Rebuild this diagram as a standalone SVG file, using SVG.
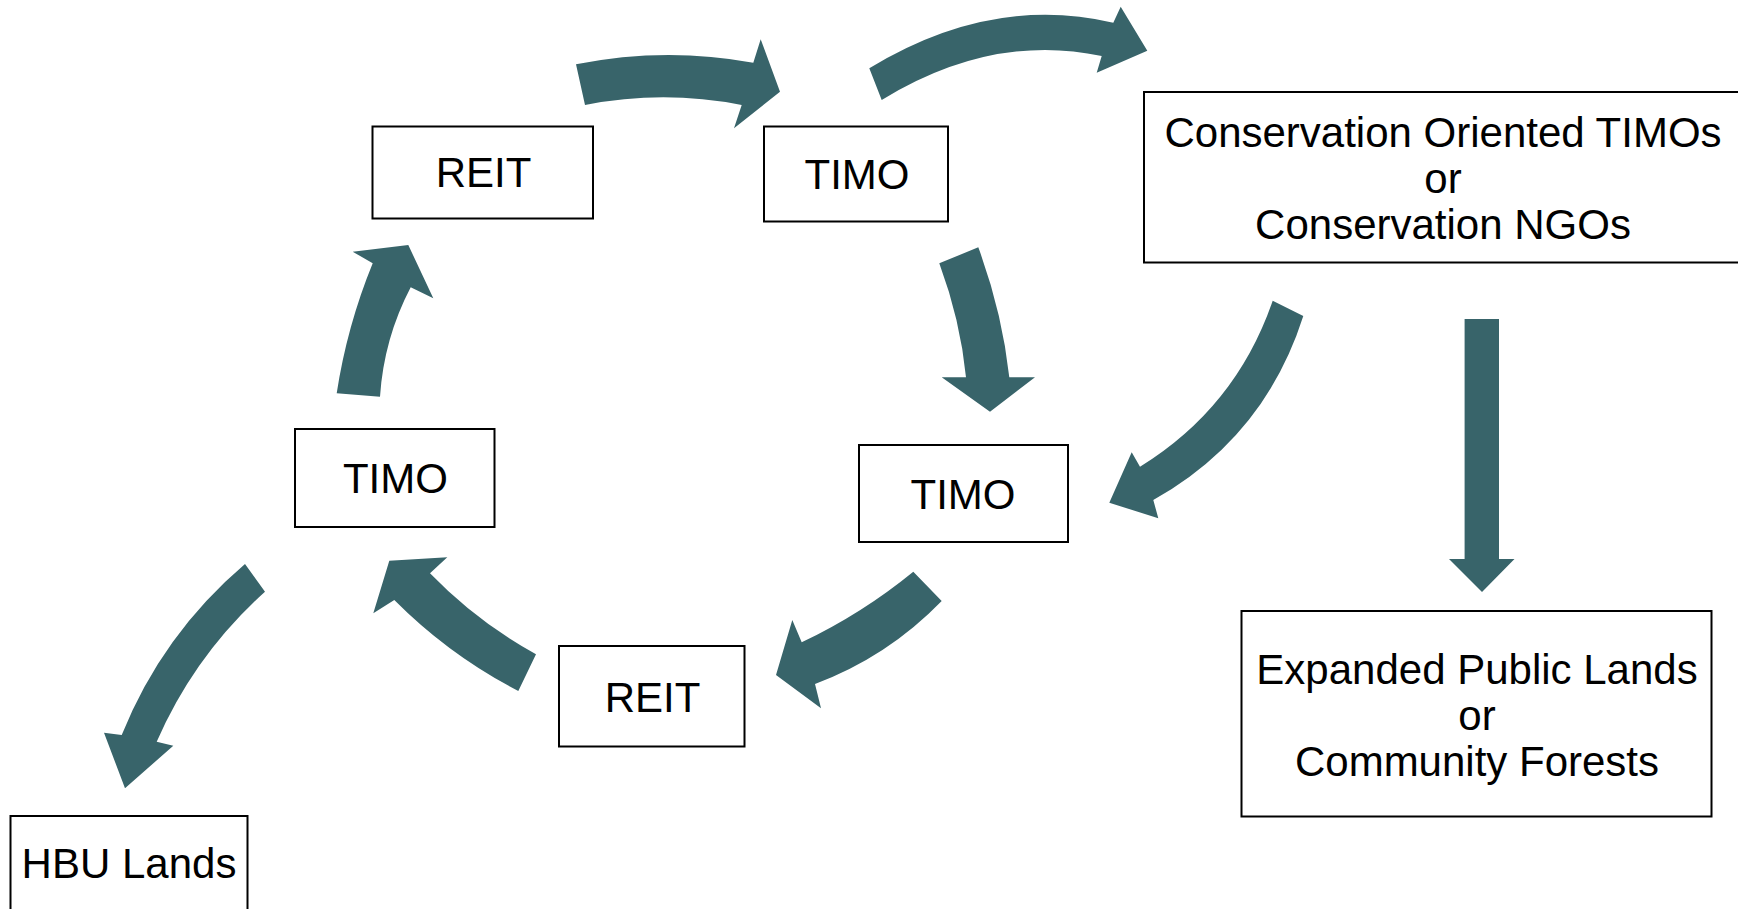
<svg xmlns="http://www.w3.org/2000/svg" width="1738" height="909" viewBox="0 0 1738 909">
<style>
.box{fill:#ffffff;stroke:#000000;stroke-width:2}
.lbl{font-family:"Liberation Sans",Arial,sans-serif;font-size:42px;fill:#000000;text-anchor:middle}
.arr{fill:#38646a;stroke:none}
</style>
<rect width="1738" height="909" fill="#ffffff"/>
<g id="connectors">
<path class="arr" d="M576,64.3 Q664.6,46.5 753.3,62.7 L760.7,39.3 L780,91.7 L734,128.3 L741.7,105 Q663.4,89.6 585,105 Z"/>
<path class="arr" d="M869.3,68.3 Q991.3,-5.9 1113.3,22.7 L1120.7,6.7 L1147.3,50.7 L1096.7,72.7 L1101.7,56 Q991.7,32.6 881.7,100 Z"/>
<path class="arr" d="M939.3,263.3 Q960.4,320.3 966,377.3 L941.7,377.3 L990,411.7 L1035,377.3 L1009.3,377.3 Q1002.2,312.3 978.3,247.3 Z"/>
<path class="arr" d="M1272.7,300.7 Q1236,407.5 1140,466.7 L1131.7,452.3 L1109.3,502.7 L1158.3,518.3 L1153.3,500 Q1264.5,437.6 1303.3,316 Z"/>
<path class="arr" d="M1464.6,319 L1499,319 L1499,559 L1514.5,559 L1482,592 L1449,559 L1464.6,559 Z"/>
<path class="arr" d="M913.3,571.7 Q861.8,613.8 801.7,642.3 L792.3,620 L776,675 L821,708.3 L815,684 Q887.7,656.7 941.7,601 Z"/>
<path class="arr" d="M536,654.3 Q476.9,621.8 430,573.3 L447.3,557.3 L389.3,560.7 L373.3,613.3 L394.3,600 Q449.2,655.2 518.3,691 Z"/>
<path class="arr" d="M336.7,393.3 Q347,326.2 372.7,263.3 L352.7,251.7 L408.3,245 L433.3,298.3 L410.7,287.3 Q383.8,338.8 380,396.7 Z"/>
<path class="arr" d="M245,564 Q162.3,634.3 121.7,735 L104,732.7 L125,788.3 L173.3,745.7 L156.7,741.7 Q194.6,655 265,591.7 Z"/>
</g>
<g id="reit-top">
<rect class="box" x="372.5" y="126.5" width="220.5" height="92"/>
<text class="lbl" x="483.5" y="187">REIT</text>
</g>
<g id="timo-top">
<rect class="box" x="764" y="126.5" width="184" height="95"/>
<text class="lbl" x="857" y="189">TIMO</text>
</g>
<g id="conservation">
<rect class="box" x="1144" y="92" width="600" height="170.5"/>
<text class="lbl" x="1443" y="147">Conservation Oriented TIMOs</text>
<text class="lbl" x="1443" y="193">or</text>
<text class="lbl" x="1443" y="239">Conservation NGOs</text>
</g>
<g id="timo-left">
<rect class="box" x="295" y="429" width="199.5" height="98"/>
<text class="lbl" x="395.4" y="493">TIMO</text>
</g>
<g id="timo-mid">
<rect class="box" x="859" y="445" width="209" height="97"/>
<text class="lbl" x="963" y="508.5">TIMO</text>
</g>
<g id="reit-bottom">
<rect class="box" x="559" y="646" width="185.5" height="100.5"/>
<text class="lbl" x="652.5" y="712">REIT</text>
</g>
<g id="hbu-lands">
<rect class="box" x="10.5" y="816" width="237" height="100"/>
<text class="lbl" x="129" y="878">HBU Lands</text>
</g>
<g id="expanded-public">
<rect class="box" x="1241.5" y="611" width="470" height="205.5"/>
<text class="lbl" x="1477" y="684">Expanded Public Lands</text>
<text class="lbl" x="1477" y="729.5">or</text>
<text class="lbl" x="1477" y="776">Community Forests</text>
</g>
</svg>
